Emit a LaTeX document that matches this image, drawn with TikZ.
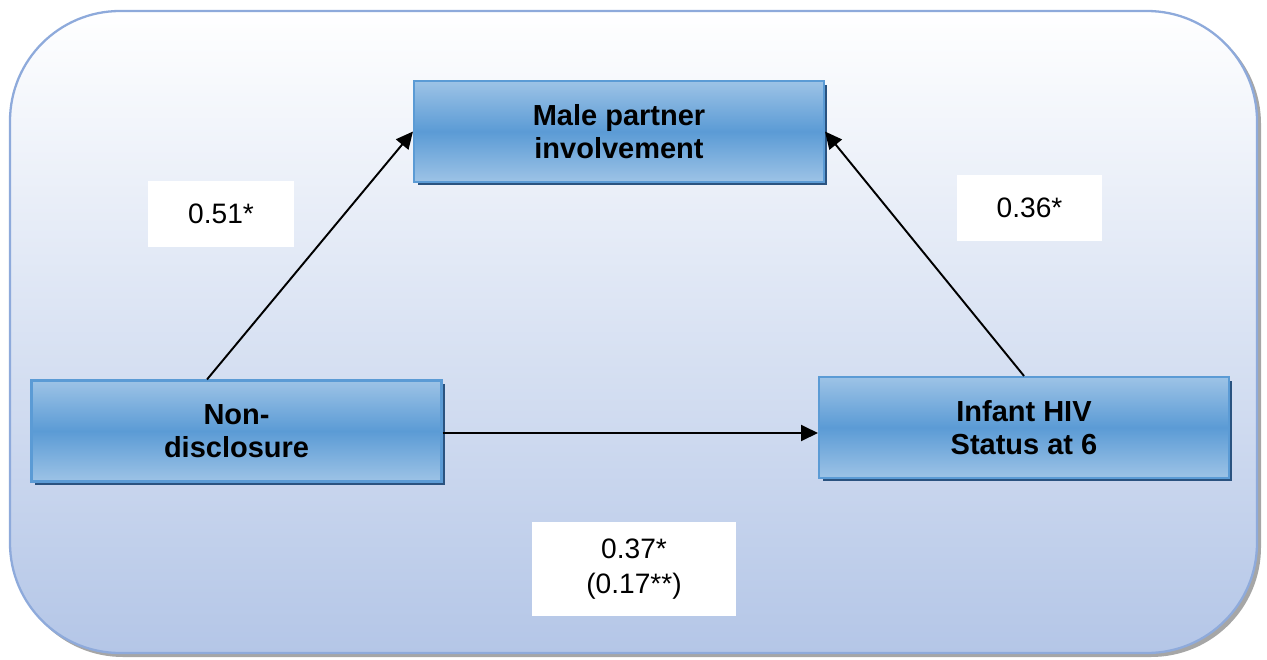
\documentclass[tikz,border=0pt]{standalone}
\usepackage{fontspec}
\setmainfont{Liberation Sans}
\usetikzlibrary{arrows.meta,shadows,calc}

\definecolor{framecol}{HTML}{8EAADB}
\definecolor{framebot}{HTML}{B4C6E7}
\definecolor{boxmid}{HTML}{5B9BD5}
\definecolor{boxlight}{HTML}{9DC3E6}
\definecolor{boxshadow}{HTML}{2A5380}

\tikzset{
  varbox/.style={rectangle, draw=boxmid, line width=1.2pt,
    top color=boxlight, bottom color=boxlight, middle color=boxmid,
    minimum width=8.2cm, minimum height=2.02cm, align=center,
    font=\fontsize{16.5}{19}\selectfont\bfseries,
    drop shadow={shadow xshift=0.07cm, shadow yshift=-0.07cm, fill=boxshadow, opacity=1}},
  coef/.style={rectangle, fill=white, align=center,
    font=\fontsize{16}{20}\selectfont},
  path/.style={-{Triangle[length=0.34cm, width=0.32cm]}, line width=1.1pt}
}

\begin{document}
\begin{tikzpicture}[x=0.02cm, y=-0.02cm]
  \useasboundingbox (0,0) rectangle (1267,659);

  % background frame
  \fill[gray!70, rounded corners=2.2cm] (13,14) rectangle (1261,657);
  \shade[top color=white, bottom color=framebot, draw=framecol, line width=1.3pt,
    rounded corners=2.2cm] (10,11) rectangle (1257,653);

  % variables
  \node [varbox](male) at (619,131.5) {Male partner\\involvement};
  \node [varbox](nd) at (236.5,431) {Non-\\disclosure};
  \node [varbox](inf) at (1024,427.5) {Infant HIV\\Status at 6};

  % coefficients
  \node [coef, minimum width=2.92cm, minimum height=1.32cm](c51) at (221,214) {0.51*};
  \node [coef, minimum width=2.9cm, minimum height=1.32cm](c36) at (1029.5,208) {0.36*};
  \node [coef, minimum width=4.08cm, minimum height=1.88cm](c37) at (634,569) {0.37*\\(0.17**)};

  % paths
  \draw [path] ([xshift=-0.59cm]nd.north) -- (male.west);
  \draw [path] (inf.north) -- (male.east);
  \draw [path] ([yshift=-0.04cm]nd.east) -- ([yshift=-0.04cm]nd.east -| inf.west);
\end{tikzpicture}
\end{document}
